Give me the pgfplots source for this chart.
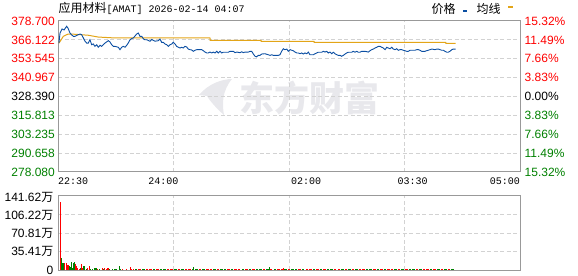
\documentclass[border=0pt]{standalone}
\usepackage{pgfplots}
\pgfplotsset{compat=1.18}
\usepackage{fontspec}
\setmainfont{Liberation Sans}
\newfontfamily\cjk{Noto Sans CJK SC}
\newfontfamily\mono{Liberation Mono}
\definecolor{pxblue}{HTML}{0B4EA2}
\definecolor{avgor}{HTML}{E3A518}
\definecolor{upred}{HTML}{FF0000}
\definecolor{dngreen}{HTML}{008000}
\definecolor{framec}{HTML}{999999}
\definecolor{gridc}{HTML}{D2D2D2}
\definecolor{wm}{HTML}{E8E8EC}
\pgfplotsset{chartbase/.style={scale only axis, width=462bp, xmin=0, xmax=390,
  axis line style={framec, line width=1bp},
  xtick={97.5,195,292.5}, xticklabels={}, yticklabels={},
  major tick length=0pt, tick style={draw=none},
  grid=major, grid style={gridc, line width=0.8bp, dash pattern=on 4bp off 2.5bp}}}
\tikzset{lab/.style={font=\fontsize{12bp}{14bp}\selectfont, inner sep=0pt},
  tlab/.style={font=\mono\fontsize{10bp}{12bp}\selectfont, inner sep=0pt}}
\begin{document}
\begin{tikzpicture}
\path[use as bounding box] (0,0) rectangle (578bp,276bp);
% watermark
\node[font=\cjk\bfseries\fontsize{35bp}{38bp}\selectfont, text=wm, inner sep=0pt] at (309bp,178.5bp) {东方财富};
\fill[wm] (199bp,181bp) .. controls (208bp,192bp) and (222bp,197bp) .. (232bp,197bp)
  .. controls (222bp,185bp) and (222bp,172bp) .. (224bp,161bp)
  .. controls (216bp,168bp) and (210bp,175bp) .. (207bp,180bp) -- cycle;
% main price axis
\begin{axis}[chartbase, at={(58bp,104bp)}, anchor=south west, height=151bp,
  ymin=278.08, ymax=378.7,
  ytick={290.6575,303.235,315.8125,328.39,340.9675,353.545,366.1225}]
\addplot[avgor, line width=1bp] coordinates {
(0.8,364.0) (2.5,366.0) (4.5,368.5) (6.8,369.4) (8.7,370.0) (11.6,370.0)
(18.6,369.6) (25.6,369.2) (34.0,368.0) (48.1,367.4) (128.3,367.4) (128.4,365.8)
(171.4,365.8) (171.5,365.2) (216.1,365.2) (216.2,364.5) (327.3,364.5) (327.4,363.8) (335.7,363.8)};
\addplot[pxblue, line width=0.9bp] coordinates {
(0.8,364.0) (1.7,370.7) (3.4,373.4) (5.1,372.7) (7.3,375.2) (8.4,374.0) (10.1,370.7)
(11.6,369.4) (12.9,368.5) (14.4,368.5) (17.1,369.6) (18.6,370.0) (20.0,369.6) (21.4,367.4)
(22.8,365.2) (24.2,364.0) (25.6,364.0) (27.0,366.2) (28.4,362.9) (29.8,363.4) (31.2,361.8)
(32.7,362.9) (34.0,361.2) (35.5,362.5) (36.9,361.8) (39.7,364.0) (42.5,365.6) (43.9,364.7)
(45.3,362.9) (46.7,361.8) (48.1,361.8) (50.9,361.2) (52.3,359.6) (53.8,361.2) (55.1,361.8)
(56.6,361.2) (58.0,362.5) (59.3,364.0) (60.8,366.2) (62.2,367.0) (63.6,367.4) (65.0,368.7)
(66.4,370.0) (67.8,370.7) (69.2,368.5) (70.7,368.5) (72.0,366.9) (73.4,366.2) (74.9,366.2)
(77.7,365.2) (79.1,366.4) (81.9,365.2) (84.7,365.6)
(86.1,366.7) (87.5,364.5) (88.9,364.5) (90.3,363.4) (91.8,362.9) (93.1,361.8) (94.6,362.9)
(96.0,363.4) (97.3,364.5) (98.8,363.4) (100.2,361.8) (101.6,361.2) (103.0,360.7) (104.4,361.2)
(105.8,360.7) (107.2,361.8) (108.6,361.4) (110.0,360.0) (111.4,359.6) (112.9,359.4) (114.2,358.5)
(115.7,359.2) (117.1,359.6) (118.4,359.6) (121.3,359.6) (122.7,358.9) (124.1,358.0) (125.5,357.4)
(126.9,357.4) (128.3,358.0) (129.8,357.4) (131.1,358.0) (132.5,357.4) (134.0,358.5) (135.3,357.4)
(136.8,358.5) (138.2,357.4) (139.5,357.9) (141.0,357.9) (143.8,357.9) (145.2,358.5) (148.0,358.5)
(149.4,357.6) (150.9,358.0) (153.6,357.6) (155.1,358.2) (156.4,357.6) (157.9,358.0) (160.7,358.0)
(162.1,358.5) (163.5,358.5) (164.9,356.7) (166.3,355.2) (167.7,354.8) (169.1,355.8) (170.5,355.8)
(172.0,356.7) (174.7,356.9) (177.5,356.2) (179.0,355.8) (180.4,356.2) (181.8,355.8) (186.0,355.8)
(187.4,356.2) (188.8,358.5) (190.2,360.2) (191.6,359.6) (193.1,360.0) (194.4,358.5) (195.9,359.6)
(197.3,359.2) (198.6,358.9) (200.1,358.0) (201.5,357.4) (202.9,357.4) (204.3,356.9) (205.7,357.4)
(207.1,356.7) (208.5,357.4) (210.0,356.9) (211.3,358.0) (212.7,356.2) (215.5,356.2) (217.0,356.9)
(218.4,357.4) (219.7,357.9) (222.6,357.9) (224.0,358.5) (225.4,358.0) (226.8,358.5) (228.2,357.4)
(229.6,358.0) (231.1,356.9) (232.4,357.9) (233.8,356.9) (235.3,356.2) (236.6,355.8) (238.1,355.8)
(239.5,355.2) (240.9,355.8) (242.3,356.7) (243.7,357.4) (245.1,357.9) (247.9,357.9) (249.3,358.5)
(250.7,357.9) (252.2,358.5) (253.5,357.9) (254.9,357.9)
(256.4,358.5) (259.2,358.5) (262.0,358.0) (263.4,358.9) (264.8,359.6) (266.2,360.0) (267.6,360.7)
(269.1,361.2) (270.4,361.8) (271.8,361.8) (273.3,361.2) (274.6,360.7) (276.1,359.6) (277.5,361.2)
(278.8,360.7) (280.3,360.2) (281.7,361.2) (283.1,360.0) (284.5,359.6) (285.9,360.2) (287.3,359.2)
(288.7,359.6) (290.2,359.6) (291.5,359.2) (292.9,358.9) (294.4,358.5) (295.7,358.5) (297.2,359.2)
(300.0,359.2) (301.4,359.2) (302.8,359.6) (304.2,359.6) (305.6,359.2) (307.0,358.5) (309.8,358.5)
(311.2,358.9) (312.6,359.2) (314.0,359.6) (315.5,360.0) (318.3,359.6) (319.7,360.0) (321.1,360.0)
(322.5,359.6) (323.9,359.2) (325.3,359.2) (326.7,358.5) (328.1,357.9) (329.5,357.9) (330.9,358.5)
(332.4,359.6) (333.7,360.0) (335.7,360.0)};
\end{axis}
% volume axis
\begin{axis}[chartbase, at={(58bp,6bp)}, anchor=south west, height=74bp,
  ymin=0, ymax=141.62, ytick={35.405,70.81,106.215}]
\addplot[ycomb, upred, line width=1.1bp] coordinates {
(1.83,130.8) (5.21,12.8) (6.89,12.8) (7.74,9.6) (8.58,9.6) (14.49,10.8) (15.34,8.3) (16.18,3.2)
(17.87,1.9) (19.56,11.5) (20.40,3.2) (24.62,3.2) (26.31,7.7) (33.07,1.9) (37.29,3.8) (38.98,3.8)
(40.66,1.9) (41.51,3.8) (42.35,3.8) (54.6,1.9) (58.0,1.9) (60.9,5.7) (61.8,1.9) (64.0,1.9) (190.2,3.8)};
\addplot[ycomb, dngreen, line width=1.1bp] coordinates {
(2.67,23.6) (3.52,12.8) (4.36,12.8) (9.43,7.7) (10.27,6.4) (11.12,15.3) (11.96,3.2) (12.80,12.8)
(13.65,15.3) (18.71,3.2) (21.25,7.7) (22.09,7.7) (23.78,1.9) (27.16,1.9) (28.84,1.9) (30.53,3.2)
(31.38,3.2) (32.22,3.2) (34.75,1.9) (38.13,1.9) (43.20,1.9) (45.73,1.9) (47.42,1.9) (48.26,1.9)
(49.11,1.9) (51.64,7.7) (52.9,1.9) (114.2,5.7) (178.4,5.7)};
\addplot[ycomb, upred, line width=2.5bp] coordinates {
(69,1.9) (75,1.9) (78,1.9) (84,1.9) (93,1.9) (96,1.9) (102,1.9) (108,1.9) (111,1.9) (120,1.9)
(126,1.9) (129,1.9) (135,1.9) (144,1.9) (150,1.9) (153,1.9) (159,1.9) (165,1.9) (174,1.9) (180,1.9)
(186,1.9) (189,1.9) (195,1.9) (204,1.9) (210,1.9) (213,1.9) (219,1.9) (225,1.9) (234,1.9) (237,1.9)
(243,1.9) (249,1.9) (255,1.9) (258,1.9) (267,1.9) (273,1.9) (279,1.9) (282,1.9) (288,1.9) (294,1.9)
(303,1.9) (309,1.9) (312,1.9) (318,1.9) (324,1.9) (330,1.9)};
\addplot[ycomb, dngreen, line width=2.5bp] coordinates {
(66,1.9) (72,1.9) (81,1.9) (87,1.9) (90,1.9) (99,1.9) (105,1.9) (114,1.9) (117,1.9) (123,1.9)
(132,1.9) (138,1.9) (141,1.9) (147,1.9) (156,1.9) (162,1.9) (168,1.9) (171,1.9) (177,1.9) (183,1.9)
(192,1.9) (198,1.9) (201,1.9) (207,1.9) (216,1.9) (222,1.9) (228,1.9) (231,1.9) (240,1.9) (246,1.9)
(252,1.9) (261,1.9) (264,1.9) (270,1.9) (276,1.9) (285,1.9) (291,1.9) (297,1.9) (300,1.9) (306,1.9)
(315,1.9) (321,1.9) (327,1.9) (333,1.9)};
\end{axis}
% title and legend
\node[anchor=west, inner sep=0pt] at (58.5bp,268bp) {{\cjk\fontsize{12bp}{14bp}\selectfont 应用材料}{\mono\fontsize{10bp}{12bp}\selectfont [AMAT] 2026-02-14 04:07}};
\node[anchor=west, inner sep=0pt, font=\cjk\fontsize{12bp}{14bp}\selectfont] at (431.5bp,267.2bp) {价格};
\fill[pxblue] (462.7bp,263.7bp) rectangle (466.5bp,266bp);
\node[anchor=west, inner sep=0pt, font=\cjk\fontsize{12bp}{14bp}\selectfont] at (476.5bp,267.2bp) {均线};
\fill[avgor] (508.3bp,267.7bp) rectangle (512.7bp,270bp);
% left price labels
\node[lab, anchor=east, text=upred] at (55bp,255bp) {378.700};
\node[lab, anchor=east, text=upred] at (55bp,236.125bp) {366.122};
\node[lab, anchor=east, text=upred] at (55bp,217.25bp) {353.545};
\node[lab, anchor=east, text=upred] at (55bp,198.375bp) {340.967};
\node[lab, anchor=east, text=black] at (55bp,179.5bp) {328.390};
\node[lab, anchor=east, text=dngreen] at (55bp,160.625bp) {315.813};
\node[lab, anchor=east, text=dngreen] at (55bp,141.75bp) {303.235};
\node[lab, anchor=east, text=dngreen] at (55bp,122.875bp) {290.658};
\node[lab, anchor=east, text=dngreen] at (55bp,104bp) {278.080};
% right percent labels
\node[lab, anchor=west, text=upred] at (524.5bp,255bp) {15.32\%};
\node[lab, anchor=west, text=upred] at (524.5bp,236.125bp) {11.49\%};
\node[lab, anchor=west, text=upred] at (524.5bp,217.25bp) {7.66\%};
\node[lab, anchor=west, text=upred] at (524.5bp,198.375bp) {3.83\%};
\node[lab, anchor=west, text=black] at (524.5bp,179.5bp) {0.00\%};
\node[lab, anchor=west, text=dngreen] at (524.5bp,160.625bp) {3.83\%};
\node[lab, anchor=west, text=dngreen] at (524.5bp,141.75bp) {7.66\%};
\node[lab, anchor=west, text=dngreen] at (524.5bp,122.875bp) {11.49\%};
\node[lab, anchor=west, text=dngreen] at (524.5bp,104bp) {15.32\%};
% time labels
\node[tlab, anchor=west] at (58bp,94.5bp) {22:30};
\node[tlab] at (163.5bp,94.5bp) {24:00};
\node[tlab] at (306bp,94.5bp) {02:00};
\node[tlab] at (412.5bp,94.5bp) {03:30};
\node[tlab, anchor=east] at (520bp,94.5bp) {05:00};
% volume labels
\node[lab, anchor=east] at (53.5bp,78.7bp) {141.62{\cjk 万}};
\node[lab, anchor=east] at (53.5bp,60.2bp) {106.22{\cjk 万}};
\node[lab, anchor=east] at (53.5bp,43bp) {70.81{\cjk 万}};
\node[lab, anchor=east] at (53.5bp,24.3bp) {35.41{\cjk 万}};
\node[lab, anchor=east] at (53.5bp,6bp) {0};
\end{tikzpicture}
\end{document}
